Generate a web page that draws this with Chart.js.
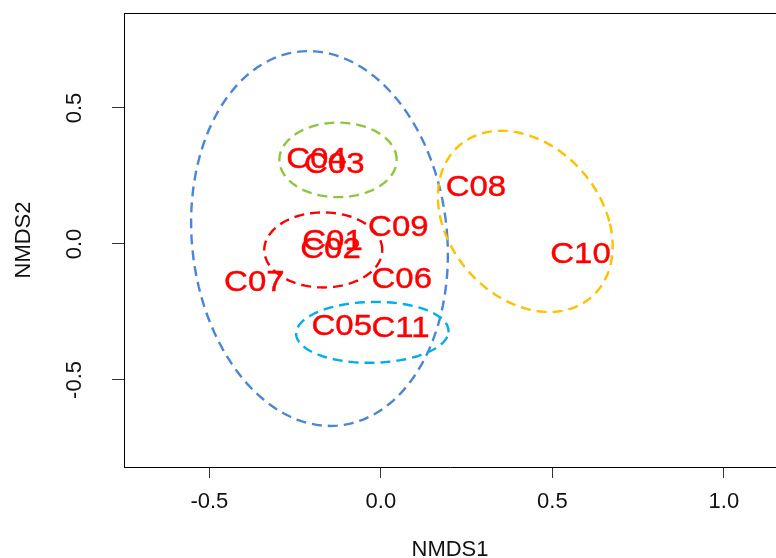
<!DOCTYPE html>
<html>
<head>
<meta charset="utf-8">
<title>NMDS ordination</title>
<script src="https://cdn.jsdelivr.net/npm/chart.js"></script>
<style>
  html, body { margin: 0; padding: 0; background: #fff; overflow: hidden; }
  #wrap { width: 776px; height: 558px; }
</style>
</head>
<body>
<div id="wrap"><canvas id="nmds" width="776" height="558"></canvas></div>
<script>
// site scores
const sites = ['C01', 'C02', 'C03', 'C04', 'C05', 'C06', 'C07', 'C08', 'C09', 'C10', 'C11'];
const nmds1 = [-0.141, -0.147, -0.136, -0.188, -0.114, 0.061, -0.369, 0.277, 0.051, 0.582, 0.057];
const nmds2 = [0.007, -0.022, 0.290, 0.309, -0.305, -0.132, -0.142, 0.206, 0.061, -0.040, -0.313];

const xTicks = [-0.5, 0, 0.5, 1.0];
const yTicks = [-0.5, 0, 0.5];

// group ellipses: centre + shape [[a, b], [0, d]]
const ellX = [-0.179, -0.125, -0.168, -0.025, 0.421];
const ellY = [0.020, 0.309, -0.022, -0.325, 0.083];
const ellA = [0.373, 0.171, 0.172, 0.222, 0.245];
const ellB = [-0.032, 0, 0, 0.009, -0.070];
const ellD = [0.689, 0.137, 0.138, 0.112, 0.333];
const ellColors = ['#4a86d6', '#8dc63f', '#ff0000', '#00aeef', '#ffc000'];

const FONT = '"Liberation Sans", Arial, sans-serif';

const siteLabels = {
  id: 'siteLabels',
  afterDatasetsDraw(chart) {
    const ctx = chart.ctx;
    const meta = chart.getDatasetMeta(0);
    ctx.save();
    ctx.fillStyle = '#ff0000';
    ctx.strokeStyle = '#ff0000';
    ctx.lineWidth = 0.4;
    ctx.font = '30px ' + FONT;
    ctx.textAlign = 'center';
    ctx.textBaseline = 'middle';
    meta.data.forEach((pt, i) => {
      ctx.save();
      ctx.translate(pt.x, pt.y);
      ctx.scale(1.1, 1);
      ctx.fillText(sites[i], 0, 0);
      ctx.strokeText(sites[i], 0, 0);
      ctx.restore();
    });
    ctx.restore();
  }
};

const ellipses = {
  id: 'ellipses',
  afterDraw(chart) {
    const {ctx, chartArea: area} = chart;
    const xs = chart.scales.x, ys = chart.scales.y;
    ctx.save();
    ctx.beginPath();
    ctx.rect(area.left, area.top, area.right - area.left, area.bottom - area.top);
    ctx.clip();
    ctx.lineWidth = 2.4;
    ctx.setLineDash([10, 6]);
    for (let k = 0; k < ellX.length; k++) {
      ctx.strokeStyle = ellColors[k];
      ctx.beginPath();
      for (let s = 0; s <= 120; s++) {
        const t = s / 120 * Math.PI * 2;
        const vx = ellX[k] + ellA[k] * Math.cos(t) + ellB[k] * Math.sin(t);
        const vy = ellY[k] + ellD[k] * Math.sin(t);
        const px = xs.getPixelForValue(vx), py = ys.getPixelForValue(vy);
        if (s === 0) ctx.moveTo(px, py); else ctx.lineTo(px, py);
      }
      ctx.stroke();
    }
    ctx.restore();

    // top edge of the plot box
    ctx.save();
    ctx.strokeStyle = '#000';
    ctx.lineWidth = 1;
    ctx.beginPath();
    ctx.moveTo(area.left, Math.round(area.top) + 0.5);
    ctx.lineTo(area.right, Math.round(area.top) + 0.5);
    ctx.stroke();
    ctx.restore();
  }
};

new Chart(document.getElementById('nmds'), {
  type: 'scatter',
  data: {
    datasets: [{
      label: 'sites',
      data: sites.map((s, i) => ({x: nmds1[i], y: nmds2[i]})),
      pointRadius: 0,
      pointHoverRadius: 0
    }]
  },
  options: {
    responsive: false,
    animation: false,
    events: [],
    layout: { padding: {top: 13, right: 0, bottom: 0, left: 0} },
    plugins: { legend: { display: false }, tooltip: { enabled: false } },
    scales: {
      x: {
        type: 'linear',
        min: -0.749,
        max: 1.152,
        afterBuildTicks: s => { s.ticks = xTicks.map(v => ({value: v})); },
        afterFit: s => { s.height = 91; s.paddingLeft = 0; s.paddingRight = 0; },
        grid: { display: true, drawOnChartArea: false, drawTicks: true, tickLength: 11, tickColor: '#333', tickWidth: 1 },
        border: { display: true, color: '#000', width: 1 },
        ticks: { color: '#111', font: {family: FONT, size: 22}, padding: 11, maxRotation: 0, callback: v => v.toFixed(1) },
        title: { display: true, text: 'NMDS1', color: '#111', font: {family: FONT, size: 22, lineHeight: 1}, padding: {top: 0, bottom: -3} }
      },
      y: {
        type: 'linear',
        min: -0.820,
        max: 0.849,
        afterBuildTicks: s => { s.ticks = yTicks.map(v => ({value: v})); },
        afterFit: s => { s.width = 124; s.paddingTop = 0; s.paddingBottom = 0; },
        grid: { display: true, drawOnChartArea: false, drawTicks: true, tickLength: 12, tickColor: '#333', tickWidth: 1 },
        border: { display: true, color: '#000', width: 1 },
        ticks: { color: '#111', font: {family: FONT, size: 22}, padding: 18, minRotation: 90, maxRotation: 90, crossAlign: 'center', callback: v => v.toFixed(1) },
        title: { display: true, text: 'NMDS2', color: '#111', font: {family: FONT, size: 22, lineHeight: 1.2}, padding: {top: 11, bottom: 0} }
      }
    }
  },
  plugins: [siteLabels, ellipses]
});
</script>
</body>
</html>
